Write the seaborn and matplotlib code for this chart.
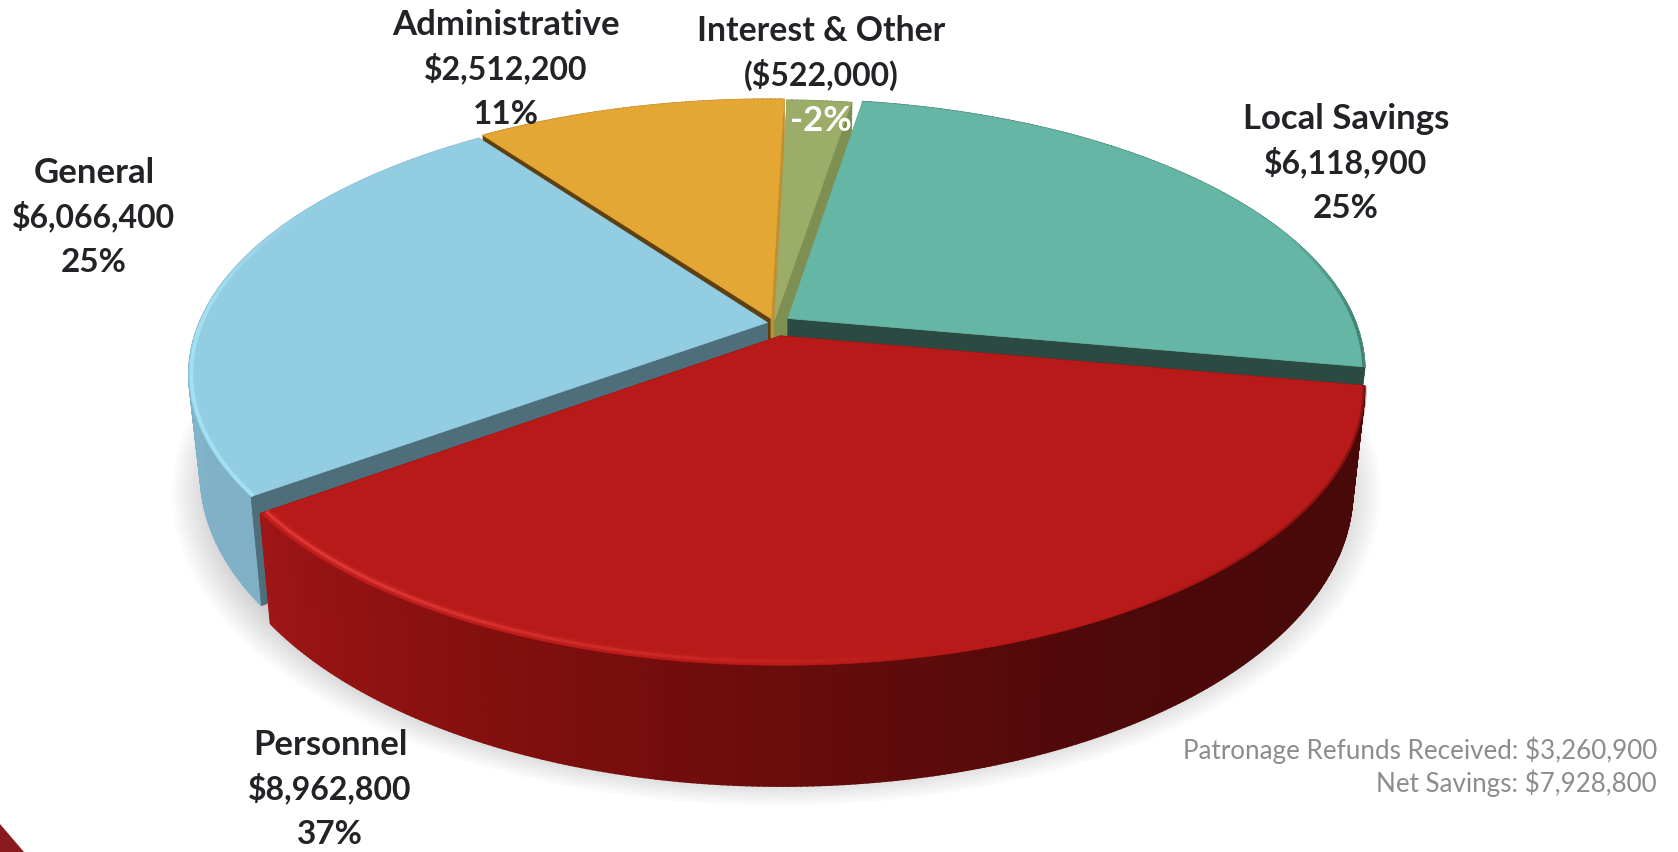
import numpy as np
import matplotlib
matplotlib.use("Agg")
import matplotlib.pyplot as plt
from matplotlib.patches import Polygon
import seaborn as sns

categories = ["Interest & Other", "Local Savings", "Personnel", "General", "Administrative"]
amount_labels = ["($522,000)", "$6,118,900", "$8,962,800", "$6,066,400", "$2,512,200"]
pct_labels = ["-2%", "25%", "37%", "25%", "11%"]
values = [522000, 6118900, 8962800, 6066400, 2512200]
footnotes = ["Patronage Refunds Received: $3,260,900", "Net Savings: $7,928,800"]

top_colors = ["#9CAD69", "#66B6A5", "#B71A18", "#93CDE1", "#E5A734"]
left_cut_colors = ["#C08F30", "#7E8F52", "#7A0F0F", "#4F6E7C", "#5E4010"]
right_cut_colors = ["#7E8F52", "#2A4A42", "#7A0F0F", "#4F6E7C", "#C08F30"]
wall_ramps = [["#7E8F52", "#7E8F52"], ["#3D7A6C", "#3D7A6C"],
              ["#4A0909", "#4A0909", "#4F0909", "#6A0C0C", "#85100F", "#9F1616"],
              ["#7FB0C6", "#86B9CF"], ["#B98528", "#B98528"]]
explode = [0.012, 0.03, 0.05, 0.012, 0.018]
draw_order = [4, 0, 1, 3, 2]
START = 1.5

sns.set_theme(style="white")
plt.rcParams['font.family'] = ['Lato', 'DejaVu Sans']

W, H = 1678, 852
fig = plt.figure(figsize=(W / 100, H / 100), dpi=100, facecolor="white")
ax = fig.add_axes([0, 0, 1, 1])
ax.set_xlim(0, W)
ax.set_ylim(H, 0)
ax.axis("off")

CX, CY, RX, RY, PERSP, DEPTH = 774, 323, 568, 262, 0.188, 97


def proj(u, v, low=False):
    f = 1 / (1 - PERSP * v)
    x = CX + RX * u * f
    y = CY + RY * v * f
    if low:
        x = CX + (x - CX) * 0.98
        y = y + DEPTH * f
    return np.array([x, y])


def rim(theta, off=(0, 0), low=False, r=1.0):
    t = np.radians(theta)
    return proj(r * np.sin(t) + off[0], -r * np.cos(t) + off[1], low)


# soft ground shadow
thetas_all = np.linspace(0, 360, 181)
for k in range(16):
    s = 1.06 - k * 0.006
    pts = [rim(t, (0.004, 0.02), True, s) + np.array([0, 6]) for t in thetas_all]
    ax.add_patch(Polygon(pts, closed=True, fc="#000000", ec="none", alpha=0.014, zorder=1))

bounds = np.concatenate([[0], np.cumsum(values)]) / np.sum(values) * 360 + START
z = 2
for i in draw_order:
    a0, a1 = bounds[i], bounds[i + 1]
    mid = np.radians((a0 + a1) / 2)
    off = (explode[i] * np.sin(mid), -explode[i] * np.cos(mid))
    ts = np.linspace(a0, a1, max(int(a1 - a0) * 2, 8))
    apex_t, apex_b = proj(off[0], off[1]), proj(off[0], off[1], True)

    def cuts():
        global z
        for a, c in ((a0, left_cut_colors[i]), (a1, right_cut_colors[i])):
            ax.add_patch(Polygon([apex_t, rim(a, off), rim(a, off, True), apex_b], closed=True,
                                 fc=c, ec=c, lw=0.6, zorder=z))
            z += 1

    def walls():
        global z
        ramp = sns.blend_palette(wall_ramps[i], n_colors=len(ts))
        for j in range(len(ts) - 1):
            ax.add_patch(Polygon([rim(ts[j], off), rim(ts[j + 1], off),
                                  rim(ts[j + 1], off, True), rim(ts[j], off, True)], closed=True,
                                 fc=ramp[j], ec=ramp[j], lw=1.2, zorder=z))
        z += 1

    if i == 2:
        cuts()
        walls()
    else:
        walls()
        cuts()
    top = [apex_t] + [rim(t, off) for t in ts]
    ax.add_patch(Polygon(top, closed=True, fc=top_colors[i], ec=top_colors[i], lw=0.5, zorder=z))
    z += 1
    # bevel highlights
    if i == 2:
        for j in range(len(ts) - 1):
            seg = np.array([rim(ts[j], off, r=0.99), rim(ts[j + 1], off, r=0.99)])
            w = np.clip((ts[j] - 165) / 55, 0, 1)
            if w > 0:
                ax.plot(seg[:, 0], seg[:, 1], color="#F04040", lw=6, alpha=0.18 * w,
                        solid_capstyle="butt", zorder=z)
                ax.plot(seg[:, 0], seg[:, 1], color="#F24444", lw=2.4, alpha=0.6 * w,
                        solid_capstyle="butt", zorder=z)
            d = np.clip((150 - ts[j]) / 25, 0, 1)
            if d > 0:
                seg2 = np.array([rim(ts[j], off), rim(ts[j + 1], off)])
                ax.plot(seg2[:, 0], seg2[:, 1], color="#4A0909", lw=3, alpha=0.4 * d,
                        solid_capstyle="butt", zorder=z)
    if i == 3:
        for j in range(len(ts) - 1):
            w = np.clip((300 - ts[j]) / 30, 0, 1)
            if w > 0:
                seg = np.array([rim(ts[j], off, r=0.996), rim(ts[j + 1], off, r=0.996)])
                ax.plot(seg[:, 0], seg[:, 1], color="#A8E4F8", lw=2.6, alpha=0.9 * w,
                        solid_capstyle="butt", zorder=z)
    if i == 1:
        for j in range(len(ts) - 1):
            w = np.clip((ts[j] - 70) / 20, 0, 1)
            if w > 0:
                seg = np.array([rim(ts[j], off, r=0.998), rim(ts[j + 1], off, r=0.998)])
                ax.plot(seg[:, 0], seg[:, 1], color="#3F7A6C", lw=2, alpha=0.9 * w,
                        solid_capstyle="butt", zorder=z)
    z += 1

# corner decoration
ax.add_patch(Polygon([(0, 824), (24, 852), (0, 852)], closed=True, fc="#8A1A1E", ec="none", zorder=z))

ink = "#222326"
label_pos = {0: (821, 31), 1: (1346, 119), 2: (330, 745), 3: (94, 173), 4: (506, 25)}
name_size = {0: 24.3, 1: 25, 2: 25, 3: 25, 4: 25}
gap = 43.5
for i, (x, y) in label_pos.items():
    ax.text(x, y, categories[i], ha="center", va="center", fontsize=name_size[i], fontweight="bold", color=ink, zorder=z + 1)
    ax.text(x, y + gap, amount_labels[i], ha="center", va="center", fontsize=23, fontweight="bold", color=ink, zorder=z + 1)
    ax.text(x, y + 2 * gap + 3, pct_labels[i], ha="center", va="center", fontsize=24 if i else 25, fontweight="bold",
            color="white" if i == 0 else ink, zorder=z + 1)

ax.text(1657, 750, footnotes[0], ha="right", va="center", fontsize=18.7, color="#8C8C8C", zorder=z + 1)
ax.text(1657, 783, footnotes[1], ha="right", va="center", fontsize=18.7, color="#8C8C8C", zorder=z + 1)

fig.savefig("out.png", dpi=100, facecolor="white")
